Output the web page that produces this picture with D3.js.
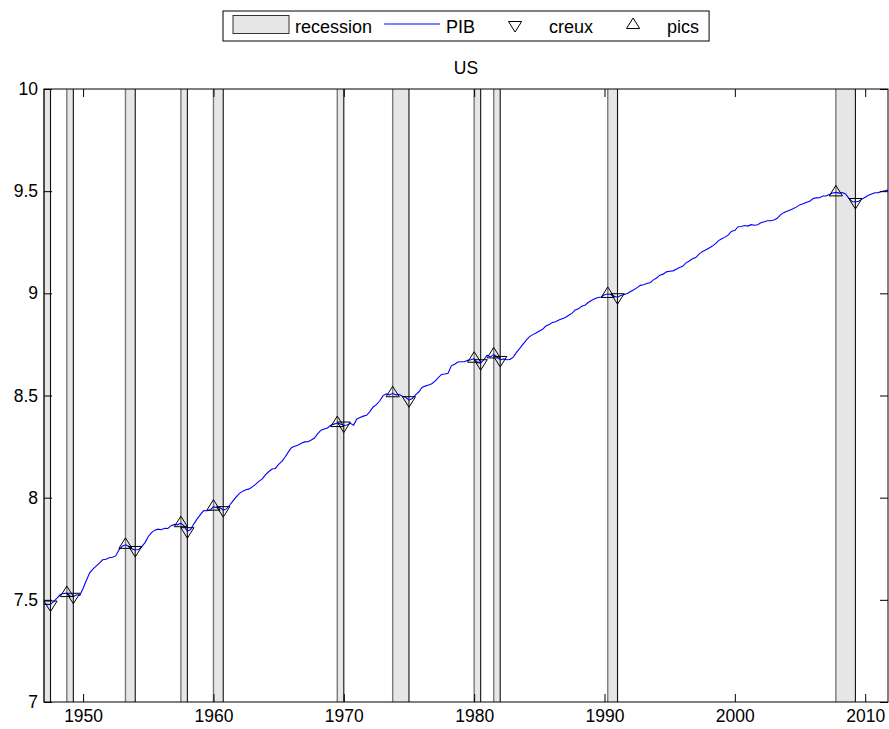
<!DOCTYPE html>
<html>
<head>
<meta charset="utf-8">
<script src="https://cdn.jsdelivr.net/npm/d3@7"></script>
<style>
  html, body { margin: 0; padding: 0; background: #fff; }
  svg { display: block; }
  text { font-family: "Liberation Sans", Arial, Helvetica, sans-serif; }
</style>
</head>
<body>
<svg id="chart" width="889" height="729"></svg>
<script>
// ---------------- DATA ----------------
const startYear = 1947;            // first quarter 1947Q1, quarterly observations
const title = "US";
const legendLabels = ["recession", "PIB", "creux", "pics"];
// log real GDP, quarterly 1947Q1 .. 2011Q4
const pib = [
  7.479, 7.478, 7.477, 7.492,
  7.508, 7.526, 7.531, 7.533,
  7.519, 7.515, 7.525, 7.522,
  7.557, 7.595, 7.632, 7.650,
  7.665, 7.680, 7.696, 7.699,
  7.706, 7.708, 7.715, 7.745,
  7.762, 7.769, 7.762, 7.749,
  7.744, 7.746, 7.760, 7.780,
  7.810, 7.829, 7.841, 7.846,
  7.843, 7.850, 7.849, 7.863,
  7.869, 7.867, 7.875, 7.862,
  7.836, 7.844, 7.872, 7.896,
  7.917, 7.937, 7.936, 7.939,
  7.956, 7.951, 7.952, 7.939,
  7.945, 7.964, 7.984, 8.004,
  8.021, 8.032, 8.039, 8.043,
  8.054, 8.066, 8.081, 8.092,
  8.113, 8.128, 8.140, 8.143,
  8.163, 8.178, 8.199, 8.224,
  8.246, 8.252, 8.258, 8.266,
  8.273, 8.274, 8.282, 8.292,
  8.313, 8.330, 8.336, 8.341,
  8.355, 8.360, 8.365, 8.360,
  8.353, 8.356, 8.364, 8.355,
  8.385, 8.392, 8.399, 8.403,
  8.421, 8.444, 8.455, 8.473,
  8.498, 8.508, 8.503, 8.511,
  8.503, 8.505, 8.496, 8.491,
  8.477, 8.485, 8.503, 8.517,
  8.539, 8.546, 8.551, 8.558,
  8.570, 8.587, 8.603, 8.605,
  8.609, 8.645, 8.653, 8.664,
  8.665, 8.665, 8.672, 8.675,
  8.680, 8.660, 8.658, 8.676,
  8.697, 8.689, 8.701, 8.690,
  8.674, 8.679, 8.675, 8.676,
  8.688, 8.711, 8.731, 8.751,
  8.771, 8.788, 8.798, 8.806,
  8.816, 8.824, 8.840, 8.847,
  8.857, 8.861, 8.870, 8.876,
  8.882, 8.893, 8.902, 8.919,
  8.924, 8.937, 8.942, 8.955,
  8.965, 8.973, 8.980, 8.982,
  8.993, 8.997, 8.994, 8.986,
  8.981, 8.989, 8.994, 8.999,
  9.009, 9.018, 9.028, 9.039,
  9.042, 9.048, 9.052, 9.066,
  9.075, 9.089, 9.094, 9.105,
  9.108, 9.110, 9.118, 9.126,
  9.132, 9.149, 9.158, 9.169,
  9.175, 9.192, 9.204, 9.212,
  9.221, 9.230, 9.242, 9.258,
  9.267, 9.275, 9.286, 9.304,
  9.307, 9.326, 9.327, 9.332,
  9.329, 9.336, 9.333, 9.336,
  9.345, 9.350, 9.355, 9.355,
  9.359, 9.367, 9.384, 9.395,
  9.402, 9.408, 9.415, 9.423,
  9.434, 9.438, 9.446, 9.451,
  9.464, 9.467, 9.468, 9.476,
  9.476, 9.484, 9.491, 9.494,
  9.4905, 9.493, 9.486, 9.465,
  9.449, 9.447, 9.451, 9.461,
  9.4705, 9.480, 9.4865, 9.4925,
  9.4928, 9.4985, 9.5015, 9.506
];
// recession periods (start, end) as year + (quarter-1)/4
const recessionStart = [1947.00, 1948.75, 1953.25, 1957.50, 1960.00, 1969.50, 1973.75, 1980.00, 1981.50, 1990.25, 2007.75];
const recessionEnd   = [1947.50, 1949.25, 1954.00, 1958.00, 1960.75, 1970.00, 1975.00, 1980.50, 1982.00, 1991.00, 2009.25];
// turning points
const pics   = [1948.75, 1953.25, 1957.50, 1960.00, 1969.50, 1973.75, 1980.00, 1981.50, 1990.25, 2007.75];
const creux  = [1947.50, 1949.25, 1954.00, 1958.00, 1960.75, 1970.00, 1975.00, 1980.50, 1982.00, 1991.00, 2009.25];
const xTicks = [1950, 1960, 1970, 1980, 1990, 2000, 2010];
const yTicks = [7, 7.5, 8, 8.5, 9, 9.5, 10];

// ---------------- LAYOUT ----------------
const L = 44, R = 888, T = 89, B = 702;
const tickLen = 8;
const svg = d3.select("#chart");

const series = pib.map((v, i) => ({ t: startYear + i / 4, v }));
const valueAt = t => pib[Math.round((t - startYear) * 4)];

const x = d3.scaleLinear().domain([startYear, startYear + (pib.length - 1) / 4]).range([L, R]);
const y = d3.scaleLinear().domain([7, 10]).range([B, T]);

// recession bars
const rec = recessionStart.map((s, i) => ({ s, e: recessionEnd[i] }));
const gRec = svg.append("g");
gRec.selectAll("rect").data(rec).join("rect")
  .attr("x", d => x(d.s)).attr("y", T)
  .attr("width", d => x(d.e) - x(d.s)).attr("height", B - T)
  .attr("fill", "#e6e6e6");
gRec.selectAll("line.l").data(rec).join("line").attr("class", "l")
  .attr("x1", d => x(d.s)).attr("x2", d => x(d.s)).attr("y1", T).attr("y2", B)
  .attr("stroke", "#7a7a7a").attr("stroke-width", 1.4);
gRec.selectAll("line.r").data(rec).join("line").attr("class", "r")
  .attr("x1", d => x(d.e)).attr("x2", d => x(d.e)).attr("y1", T).attr("y2", B)
  .attr("stroke", "#111").attr("stroke-width", 1.1);

// PIB line
svg.append("path").datum(series)
  .attr("fill", "none").attr("stroke", "#0000ff").attr("stroke-width", 1.1)
  .attr("d", d3.line().x(d => x(d.t)).y(d => y(d.v)));

// markers (centroid on data point)
const tw = 6.6, th = 10.5;
const upPath = (cx, cy) => `M${cx - tw},${cy + th / 3}L${cx},${cy - 2 * th / 3}L${cx + tw},${cy + th / 3}Z`;
const downPath = (cx, cy) => `M${cx - tw},${cy - th / 3}L${cx + tw},${cy - th / 3}L${cx},${cy + 2 * th / 3}Z`;
svg.append("g").selectAll("path").data(pics).join("path")
  .attr("d", t => upPath(x(t), y(valueAt(t))))
  .attr("fill", "none").attr("stroke", "#000").attr("stroke-width", 1);
svg.append("g").selectAll("path").data(creux).join("path")
  .attr("d", t => downPath(x(t), y(valueAt(t))))
  .attr("fill", "none").attr("stroke", "#000").attr("stroke-width", 1);

// axes
const fs = "17.5px";
const ax = svg.append("g").attr("transform", `translate(0,${B})`)
  .call(d3.axisBottom(x).tickValues(xTicks).tickFormat(d3.format("d")).tickSizeInner(-tickLen).tickSizeOuter(0).tickPadding(7.5));
const ay = svg.append("g").attr("transform", `translate(${L},0)`)
  .call(d3.axisLeft(y).tickValues(yTicks).tickFormat(d => String(d)).tickSizeInner(-tickLen).tickSizeOuter(0).tickPadding(6));
const axT = svg.append("g").attr("transform", `translate(0,${T})`)
  .call(d3.axisTop(x).tickValues(xTicks).tickFormat("").tickSizeInner(-tickLen).tickSizeOuter(0));
const ayR = svg.append("g").attr("transform", `translate(${R},0)`)
  .call(d3.axisRight(y).tickValues(yTicks).tickFormat("").tickSizeInner(-tickLen).tickSizeOuter(0));
[ax, ay, axT, ayR].forEach(g => {
  g.select(".domain").remove();
  g.selectAll(".tick line").attr("stroke", "#000").attr("stroke-width", 1);
  g.selectAll("text").attr("fill", "#000").style("font-size", fs)
    .style("font-family", '"Liberation Sans", Arial, sans-serif');
});
// frame
svg.append("rect").attr("x", L).attr("y", T).attr("width", R - L).attr("height", B - T)
  .attr("fill", "none").attr("stroke", "#000").attr("stroke-width", 1);

// title
svg.append("text").attr("x", (L + R) / 2).attr("y", 74).attr("text-anchor", "middle")
  .style("font-size", "17.5px").text(title);

// legend
const lg = svg.append("g");
const box = lg.append("rect").attr("x", 223).attr("y", 11).attr("height", 30)
  .attr("fill", "#fff").attr("stroke", "#000").attr("stroke-width", 1);
let cx = 233;
const tokenW = 56, cyL = 25;
legendLabels.forEach((lab, i) => {
  if (i === 0) {
    lg.append("rect").attr("x", cx).attr("y", 15.5).attr("width", tokenW).attr("height", 18)
      .attr("fill", "#e6e6e6").attr("stroke", "#333").attr("stroke-width", 1);
  } else if (i === 1) {
    lg.append("line").attr("x1", cx).attr("x2", cx + tokenW).attr("y1", 24).attr("y2", 24)
      .attr("stroke", "#0000ff").attr("stroke-width", 1);
  } else if (i === 2) {
    lg.append("path").attr("d", downPath(cx + tokenW / 2, cyL)).attr("fill", "none").attr("stroke", "#000");
  } else {
    lg.append("path").attr("d", upPath(cx + tokenW / 2, cyL)).attr("fill", "none").attr("stroke", "#000");
  }
  const tx = lg.append("text").attr("x", cx + tokenW + 6).attr("y", 32.5)
    .style("font-size", "18px").text(lab);
  const w = tx.node().getComputedTextLength();
  cx = cx + tokenW + 6 + w + 12;
});
box.attr("width", cx - 12 + 10 - 223);
</script>
</body>
</html>
